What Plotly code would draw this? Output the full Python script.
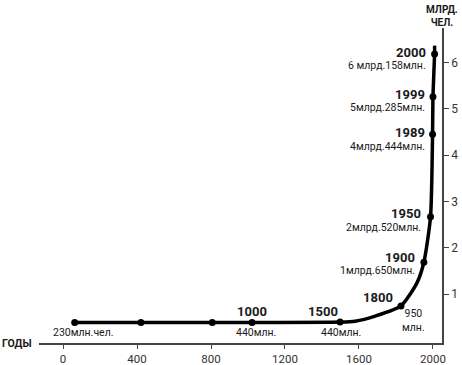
import plotly.graph_objects as go

# Data
years = [63, 421, 807, 1022, 1498, 1827, 1951, 1987, 1998, 2000, 2009]
population = [0.39, 0.39, 0.39, 0.39, 0.4, 0.75, 1.69, 2.67, 4.45, 5.26, 6.18]
curve_years = [1579, 1688, 1913]          # extra points (no marker)
curve_pop = [0.42, 0.53, 1.24]
line_end_year = 2009
line_end_pop = 6.36
year_labels = ["", "", "", "1000", "1500", "1800", "1900", "1950", "1989", "1999", "2000"]
value_labels = ["230млн.чел.", "", "", "440млн.", "440млн.", "950<br>млн.",
                "1млрд.650млн.", "2млрд.520млн.", "4млрд.444млн.", "5млрд.285млн.",
                "6 млрд.158млн."]
x_ticks = [0, 400, 800, 1200, 1600, 2000]
y_ticks = [1, 2, 3, 4, 5, 6]

FONT = "Roboto"
DARK = "#1a1a1a"

line_pts = sorted(list(zip(years, population)) + list(zip(curve_years, curve_pop)))
line_pts.append((line_end_year, line_end_pop))
lx = [p[0] for p in line_pts]
ly = [p[1] for p in line_pts]

fig = go.Figure()
fig.add_trace(go.Scatter(
    x=lx, y=ly, mode="lines",
    line=dict(color="black", width=3.5, shape="spline", smoothing=0.6),
    hoverinfo="skip", showlegend=False))
fig.add_trace(go.Scatter(
    x=years, y=population, mode="markers",
    marker=dict(color="black", size=7), showlegend=False))

# label placement (style): (xanchor, xshift, yshift)
year_pos = [None, None, None, ("center", 0, 11), ("right", 0, 11), ("right", -6, 8),
            ("right", -7, 5), ("right", -8, 3), ("right", -6, 2), ("right", -6, 2),
            ("right", -7, 1)]
val_pos = [("center", 9, -10), None, None, ("center", 4, -10), ("center", 1, -10),
           ("center", 13, -15), ("right", -7, -8), ("right", -8, -11), ("right", -6, -12),
           ("right", -6, -11), ("right", -7, -12)]

for i in range(len(years)):
    if year_labels[i] and year_pos[i]:
        xa, xs, ys = year_pos[i]
        fig.add_annotation(x=years[i], y=population[i], text="<b>%s</b>" % year_labels[i],
                           showarrow=False, xanchor=xa, yanchor="middle", xshift=xs, yshift=ys,
                           font=dict(family=FONT, size=13, color=DARK))
    if value_labels[i] and val_pos[i]:
        xa, xs, ys = val_pos[i]
        fig.add_annotation(x=years[i], y=population[i], text=value_labels[i],
                           showarrow=False, xanchor=xa, yanchor="middle", xshift=xs, yshift=ys,
                           align="center" if xa == "center" else "right",
                           font=dict(family=FONT, size=10.5, color=DARK))

fig.add_annotation(xref="paper", yref="paper", x=1, y=1, text="<b>МЛРД.<br>ЧЕЛ.</b>",
                   showarrow=False, xanchor="center", yanchor="bottom", yshift=-2,
                   font=dict(family=FONT, size=10, color=DARK))
fig.add_annotation(xref="paper", yref="paper", x=0, y=0, text="<b>ГОДЫ</b>",
                   showarrow=False, xanchor="right", yanchor="middle", xshift=-5,
                   font=dict(family=FONT, size=10.5, color=DARK))

fig.update_layout(
    width=462, height=365,
    margin=dict(l=39, r=20, t=28, b=22),
    paper_bgcolor="white", plot_bgcolor="white",
    font=dict(family=FONT, color="#333"),
    xaxis=dict(range=[-130, 2049], tickvals=x_ticks, showgrid=False, zeroline=False,
               automargin=False,
               showline=True, linecolor="#444", linewidth=1.5, ticks="outside",
               ticklen=4, tickcolor="#444", tickfont=dict(size=11.5, color="#333")),
    yaxis=dict(range=[-0.05, 6.74], tickvals=y_ticks, side="right", showgrid=False,
               automargin=False,
               zeroline=False, showline=True, linecolor="#444", linewidth=1.5,
               ticks="outside", ticklen=5, tickcolor="#444",
               tickfont=dict(size=12, color="#333")),
)

fig.write_html("out.html", config={"displayModeBar": False},
               post_script="document.body.style.margin='0';document.body.style.overflow='hidden';")
